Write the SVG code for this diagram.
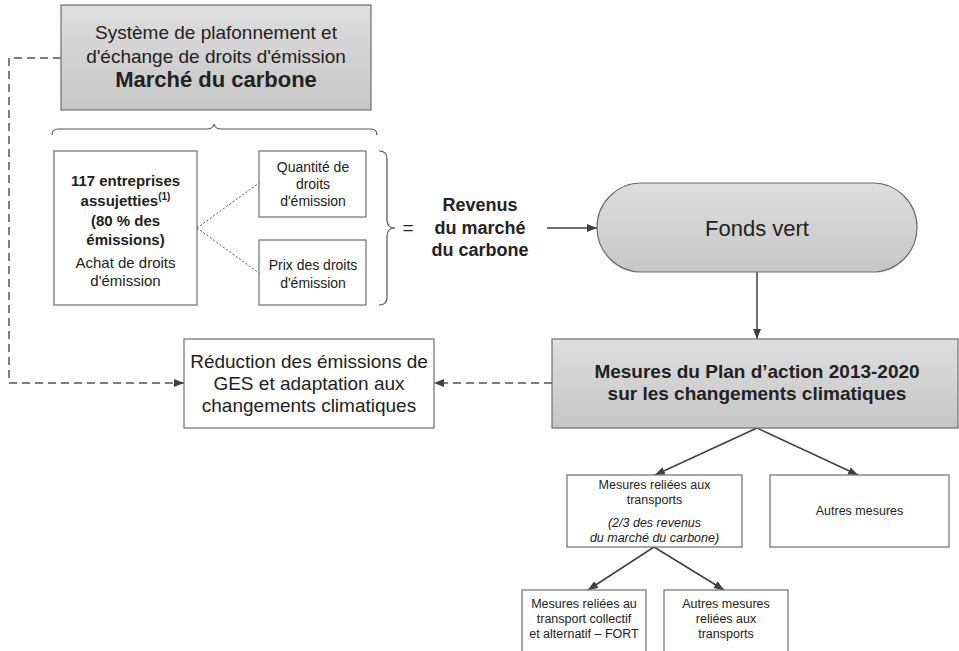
<svg xmlns="http://www.w3.org/2000/svg" width="959" height="651" viewBox="0 0 959 651">
<defs>
<linearGradient id="g" x1="0" y1="0" x2="0" y2="1">
<stop offset="0" stop-color="#dedede"/>
<stop offset="1" stop-color="#c6c6c6"/>
</linearGradient>
<marker id="ah" viewBox="0 0 10 8" refX="10" refY="4" markerWidth="10" markerHeight="8" markerUnits="userSpaceOnUse" orient="auto">
<path d="M0,0 L10,4 L0,8 Z" fill="#404040"/>
</marker>
<style>
.box{fill:#fff;stroke:#6e6e6e;stroke-width:1.2}
.gbox{fill:url(#g);stroke:#6e6e6e;stroke-width:1.2}
text{font-family:"Liberation Sans",Arial,sans-serif;fill:#222;text-anchor:middle}
.b{font-weight:bold}
.i{font-style:italic}
.solid{fill:none;stroke:#404040;stroke-width:1.5}
.dash{fill:none;stroke:#555;stroke-width:1.5;stroke-dasharray:8 5}
.dot{fill:none;stroke:#555;stroke-width:1;stroke-dasharray:2 2}
.brace{fill:none;stroke:#555;stroke-width:1.2}
</style>
</defs>
<rect width="959" height="651" fill="#fff"/>

<g id="connectors">
<path class="dash" d="M61,58 H9 V383 H184" marker-end="url(#ah)"/>
<path class="dash" d="M552,383 H434" marker-end="url(#ah)"/>
<path class="solid" d="M547,228 H597" marker-end="url(#ah)"/>
<path class="solid" d="M757,272 V339" marker-end="url(#ah)"/>
<path class="solid" d="M757,428 L655,475" marker-end="url(#ah)"/>
<path class="solid" d="M757,428 L858,475" marker-end="url(#ah)"/>
<path class="solid" d="M654,547 L588,590" marker-end="url(#ah)"/>
<path class="solid" d="M654,547 L724,590" marker-end="url(#ah)"/>
<path class="dot" d="M197,228 L259,183"/>
<path class="dot" d="M197,228 L259,273"/>
<path class="brace" d="M52,135 Q52,129 58,129 L207,129 Q213,129 214,124 Q215,129 221,129 L371,129 Q377,129 377,135"/>
<path class="brace" d="M379,151 Q387,151 387,159 L387,220 Q387,228 395,228 Q387,228 387,236 L387,297 Q387,305 379,305"/>
</g>

<g id="systeme">
<rect class="gbox" x="61" y="5" width="310" height="105"/>
<text x="216" y="39" font-size="19">Système de plafonnement et</text>
<text x="216" y="63" font-size="19">d'échange de droits d'émission</text>
<text x="216" y="87" font-size="22" class="b">Marché du carbone</text>
</g>

<g id="entreprises">
<rect class="box" x="54" y="151" width="143" height="154"/>
<text x="125.5" y="186" font-size="15" class="b">117 entreprises</text>
<text x="125.5" y="206" font-size="15" class="b">assujetties<tspan font-size="10" dy="-6">(1)</tspan></text>
<text x="125.5" y="226" font-size="15" class="b">(80 % des</text>
<text x="125.5" y="245" font-size="15" class="b">émissions)</text>
<text x="125.5" y="268" font-size="15">Achat de droits</text>
<text x="125.5" y="286" font-size="15">d'émission</text>
</g>

<g id="quantite">
<rect class="box" x="259" y="151" width="107" height="66"/>
<text x="313" y="172" font-size="14">Quantité de</text>
<text x="313" y="189" font-size="14">droits</text>
<text x="313" y="206" font-size="14">d'émission</text>
</g>

<g id="prix">
<rect class="box" x="259" y="240" width="107" height="65"/>
<text x="313" y="270" font-size="14">Prix des droits</text>
<text x="313" y="288" font-size="14">d'émission</text>
</g>

<g id="revenus">
<text x="408" y="234" font-size="19">=</text>
<text x="480" y="211" font-size="18" class="b">Revenus</text>
<text x="480" y="234" font-size="18" class="b">du marché</text>
<text x="480" y="256" font-size="18" class="b">du carbone</text>
</g>

<g id="fonds">
<rect class="gbox" x="597" y="183" width="320" height="89" rx="44.5" ry="44.5"/>
<text x="757" y="236" font-size="22">Fonds vert</text>
</g>

<g id="reduction">
<rect class="box" x="184" y="339" width="250" height="89"/>
<text x="309" y="368" font-size="19">Réduction des émissions de</text>
<text x="309" y="390" font-size="19">GES et adaptation aux</text>
<text x="309" y="412" font-size="19">changements climatiques</text>
</g>

<g id="mesures-plan">
<rect class="gbox" x="552" y="339" width="406" height="89"/>
<text x="757" y="378" font-size="19" class="b">Mesures du Plan d’action 2013-2020</text>
<text x="757" y="400" font-size="19" class="b">sur les changements climatiques</text>
</g>

<g id="transports">
<rect class="box" x="567" y="475" width="175" height="72"/>
<text x="654.5" y="489" font-size="12.5">Mesures reliées aux</text>
<text x="654.5" y="504" font-size="12.5">transports</text>
<text x="654.5" y="527" font-size="12.5" class="i">(2/3 des revenus</text>
<text x="654.5" y="542" font-size="12.5" class="i">du marché du carbone)</text>
</g>

<g id="autres">
<rect class="box" x="770" y="475" width="179" height="72"/>
<text x="859.5" y="515" font-size="12.5">Autres mesures</text>
</g>

<g id="fort">
<rect class="box" x="522" y="590" width="124" height="70"/>
<text x="584" y="608" font-size="12.5">Mesures reliées au</text>
<text x="584" y="623" font-size="12.5">transport collectif</text>
<text x="584" y="638" font-size="12.5">et alternatif – FORT</text>
</g>

<g id="autres-transports">
<rect class="box" x="664" y="590" width="124" height="70"/>
<text x="726" y="608" font-size="12.5">Autres mesures</text>
<text x="726" y="623" font-size="12.5">reliées aux</text>
<text x="726" y="638" font-size="12.5">transports</text>
</g>
</svg>
